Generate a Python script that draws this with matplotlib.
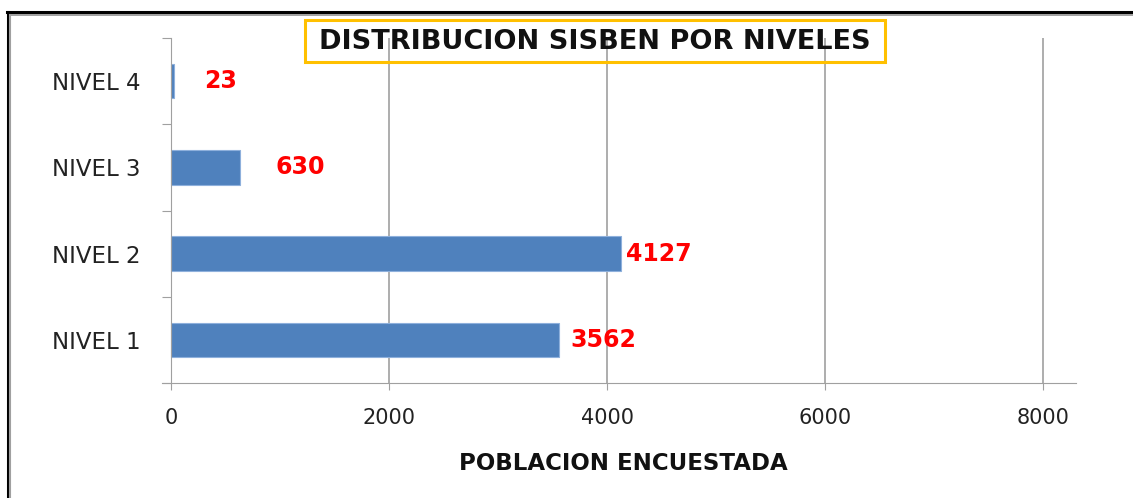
import numpy as np
import matplotlib
matplotlib.use("Agg")
import matplotlib.pyplot as plt
from matplotlib.lines import Line2D
from matplotlib.patches import Rectangle

niveles = ["NIVEL 1", "NIVEL 2", "NIVEL 3", "NIVEL 4"]
poblacion = [3562, 4127, 630, 23]
xticks = [0, 2000, 4000, 6000, 8000]
titulo = "DISTRIBUCION SISBEN POR NIVELES"
xlabel = "POBLACION ENCUESTADA"

# offsets of the red labels from the bar ends (points), as in the picture
label_dx = [8, 4, 26, 22]

fig = plt.figure(figsize=(11.33, 4.98), dpi=100)
ax = fig.add_axes([162/1133, 1-383/498, (1075.7-162)/1133, (383-38)/498])

y = np.arange(len(niveles))
ax.barh(y, poblacion, height=0.4, color="#4F81BD", edgecolor="#8EB0DC", linewidth=0.8, zorder=3)

ax.set_xlim(-83, 8300)
ax.set_ylim(-0.5, 3.5)

for s in ["top", "right"]:
    ax.spines[s].set_visible(False)
ax.spines["left"].set_position(("data", 0))
ax.spines["left"].set_color("#A0A0A0")
ax.spines["bottom"].set_color("#A0A0A0")
ax.spines["left"].set_zorder(4)

ax.set_xticks(xticks)
ax.set_xticklabels([str(v) for v in xticks], fontsize=15, color="#222222", family="DejaVu Sans")
ax.tick_params(axis="x", direction="out", length=5, color="#A0A0A0", pad=13)
for v in xticks[1:]:
    ax.axvline(v, color="#A0A0A0", linewidth=1.2, zorder=1)

ax.set_yticks(np.arange(-0.5, len(niveles), 1.0))
ax.set_yticklabels([])
ax.tick_params(axis="y", which="major", direction="out", length=6.5, color="#A0A0A0")
ax.set_yticks(y, minor=True)
ax.set_yticklabels(niveles, minor=True, fontsize=16.5, color="#222222")
ax.tick_params(axis="y", which="minor", length=0, pad=22)

for yi, v, dx in zip(y, poblacion, label_dx):
    ax.annotate(str(v), (v, yi), xytext=(dx, 0), textcoords="offset points",
                ha="left", va="center", color="#FF0000", fontsize=17,
                fontweight="bold", family="DejaVu Sans", zorder=5)

fig.text(623/1133, 1-463/498, xlabel, ha="center", va="center", fontsize=16.5,
         fontweight="bold", family="DejaVu Sans", color="#111111")

fig.text(595/1133, 1-42/498, titulo, ha="center", va="center", fontsize=19.5,
         fontweight="bold", family="DejaVu Sans", color="#111111")
fig.add_artist(Rectangle((305/1133, 1-62/498), 580/1133, 42/498, transform=fig.transFigure,
                         facecolor="none", edgecolor="#FFC000", linewidth=2.2))

# outer frame lines (top and left)
fig.add_artist(Line2D([7/1133, 1], [1-12.5/498, 1-12.5/498], color="black", linewidth=2.2))
fig.add_artist(Line2D([9/1133, 1], [1-15/498, 1-15/498], color="#909090", linewidth=1.2))
fig.add_artist(Line2D([7.5/1133, 7.5/1133], [0, 1-12.5/498], color="black", linewidth=2.2))
fig.add_artist(Line2D([10.5/1133, 10.5/1133], [0, 1-15/498], color="#A0A0A0", linewidth=1.5))

fig.savefig("out.png", dpi=100)
